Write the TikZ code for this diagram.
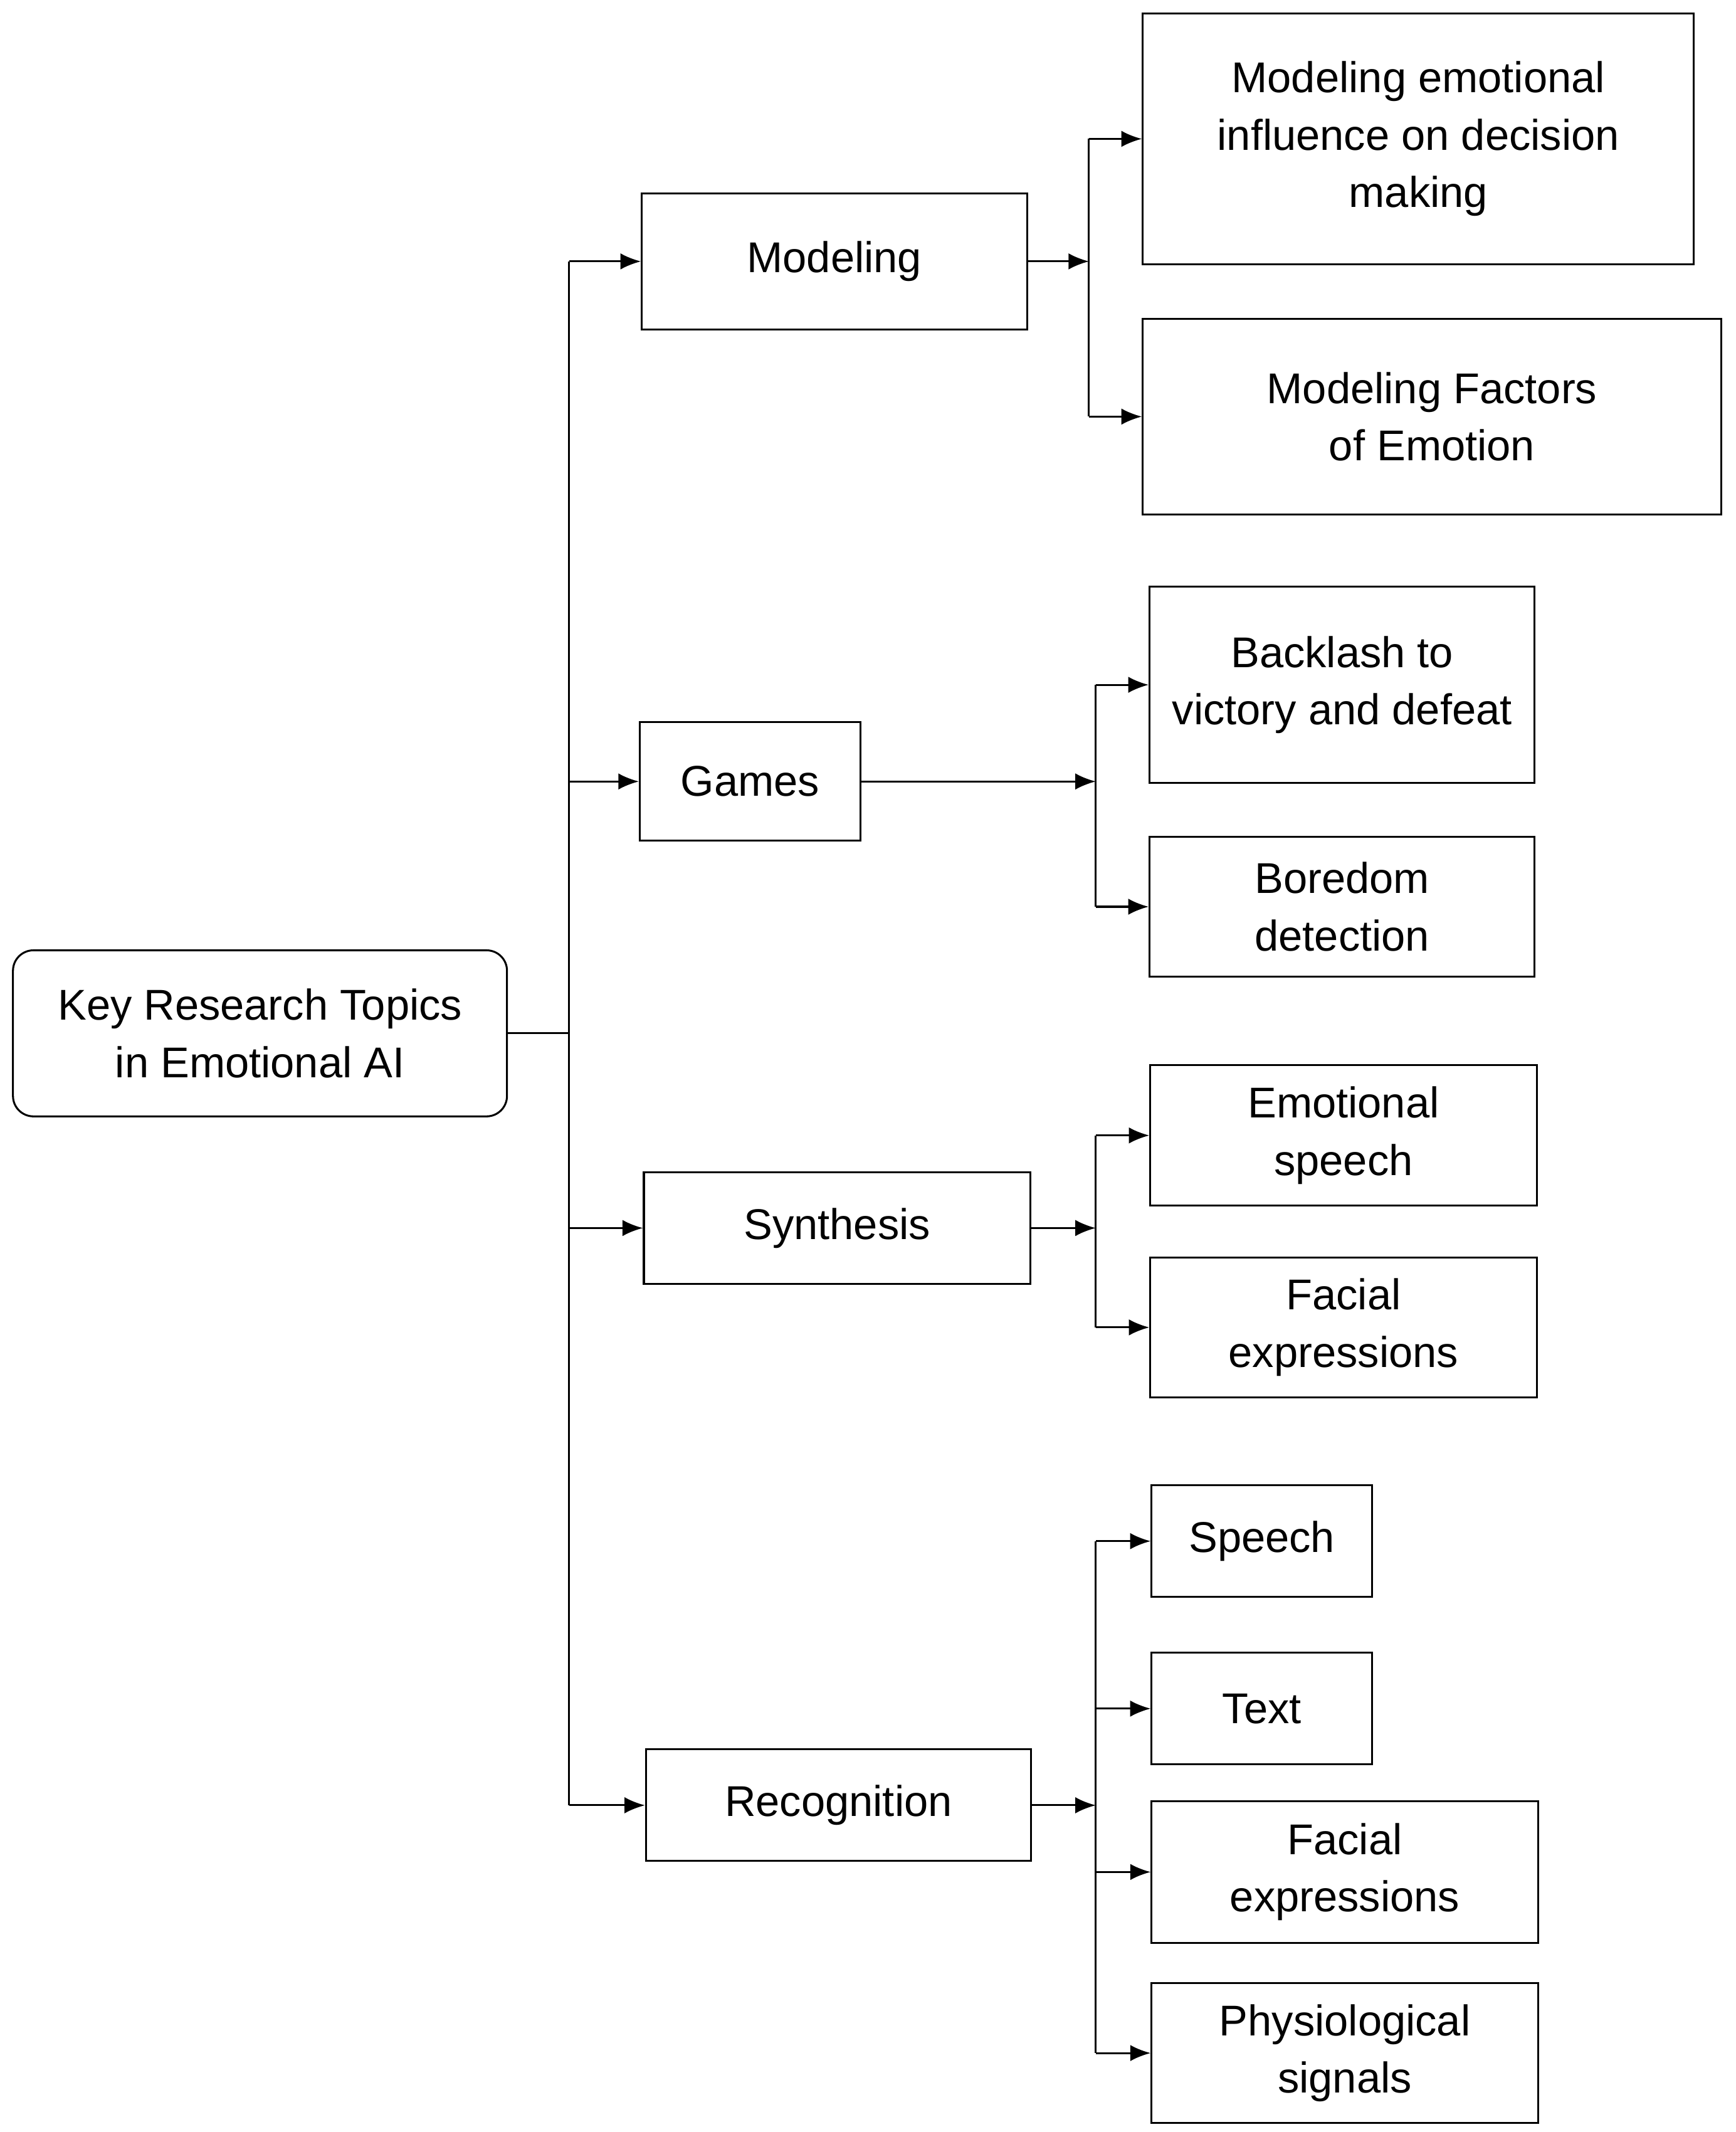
\documentclass[tikz,border=0pt]{standalone}
\usepackage{fontspec}
\setmainfont{Liberation Sans}
\usetikzlibrary{arrows.meta, positioning}

\begin{document}
\begin{tikzpicture}[x=0.02cm, y=-0.02cm,
every node/.style = {draw, thick, align=center, inner sep=1mm,
                     font=\fontsize{18}{24}\selectfont},
link/.style = {thick, -{Latex[length=3mm,width=2.4mm]}},
                    ]
\useasboundingbox (0,0) rectangle (1275,1566);
%-------
\node (root) [rounded corners=3mm, minimum width=7.26cm, minimum height=2.44cm]
        at (191,759) {Key Research Topics\\in Emotional AI};
%
\node (modeling) [minimum width=5.66cm, minimum height=2cm]   at (613,192) {Modeling};
\node (games)    [minimum width=3.24cm, minimum height=1.74cm] at (551,574) {Games};
\node (synth)    [minimum width=5.68cm, minimum height=1.64cm] at (615,902) {Synthesis};
\node (recog)    [minimum width=5.66cm, minimum height=1.64cm] at (616,1326) {Recognition};
%
\node (decision) [minimum width=8.1cm, minimum height=3.68cm]  at (1042,102)
        {Modeling emotional\\influence on decision\\making};
\node (factors)  [minimum width=8.5cm, minimum height=2.88cm]  at (1052,306)
        {Modeling Factors\\of Emotion};
\node (backlash) [minimum width=5.66cm, minimum height=2.88cm]  at (986,503)
        {Backlash to\\victory and defeat};
\node (boredom)  [minimum width=5.66cm, minimum height=2.06cm] at (986,666)
        {Boredom\\detection};
\node (emoSpeech) [minimum width=5.68cm, minimum height=2.06cm] at (987,834)
        {Emotional\\speech};
\node (synFace)  [minimum width=5.68cm, minimum height=2.06cm] at (987,975)
        {Facial\\expressions};
\node (speech)   [minimum width=3.24cm, minimum height=1.64cm] at (927,1132) {Speech};
\node (text)     [minimum width=3.24cm, minimum height=1.64cm] at (927,1255) {Text};
\node (recFace)  [minimum width=5.68cm, minimum height=2.08cm] at (988,1375)
        {Facial\\expressions};
\node (physio)   [minimum width=5.68cm, minimum height=2.06cm] at (988,1508)
        {Physiological\\signals};
%
\coordinate (trunk) at (418,760);
\coordinate (jMod)  at (800,192);
\coordinate (jGam)  at (805,574);
\coordinate (jSyn)  at (805,902);
\coordinate (jRec)  at (805,1326);
% main trunk
\draw[thick] (root.east) -- (trunk |- root.east);
\draw[thick] (trunk |- modeling.west) -- (trunk |- recog.west);
\foreach \n in {modeling, games, synth, recog}
    \draw[link] (trunk |- \n.west) -- (\n.west);
% sub trunks
\draw[link] (modeling.east) -- (jMod);
\draw[link] (games.east) -- (jGam);
\draw[link] (synth.east) -- (jSyn);
\draw[link] (recog.east) -- (jRec);
\draw[thick] (jMod |- decision.west) -- (jMod |- factors.west);
\draw[thick] (jGam |- backlash.west) -- (jGam |- boredom.west);
\draw[thick] (jSyn |- emoSpeech.west) -- (jSyn |- synFace.west);
\draw[thick] (jRec |- speech.west) -- (jRec |- physio.west);
\foreach \n in {decision, factors}
    \draw[link] (jMod |- \n.west) -- (\n.west);
\foreach \n in {backlash, boredom}
    \draw[link] (jGam |- \n.west) -- (\n.west);
\foreach \n in {emoSpeech, synFace}
    \draw[link] (jSyn |- \n.west) -- (\n.west);
\foreach \n in {speech, text, recFace, physio}
    \draw[link] (jRec |- \n.west) -- (\n.west);
\end{tikzpicture}
\end{document}
